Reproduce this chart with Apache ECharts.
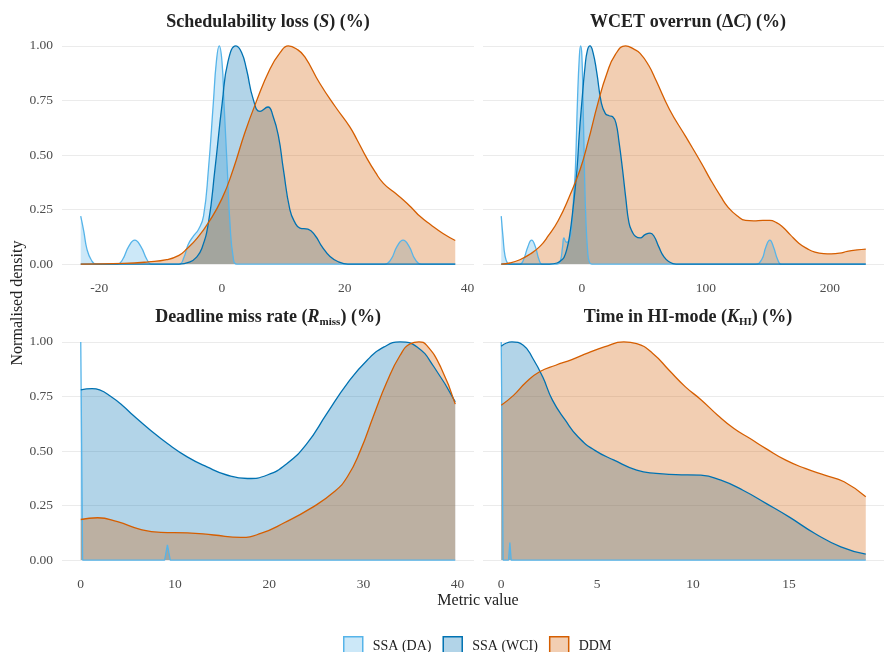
<!DOCTYPE html>
<html><head><meta charset="utf-8">
<script src="https://cdn.jsdelivr.net/npm/echarts@6/dist/echarts.min.js"></script>
<style>html,body{margin:0;padding:0;background:#fff}#c{width:884px;height:652px}</style>
</head><body><div id="c"></div>
<script>
// ---------- DATA ----------
const seriesNames = ['SSA (DA)', 'SSA (WCI)', 'DDM'];

// Panel 1: Schedulability loss
const schedDA_x = [-23,-22.5,-22,-21.3,-20.5,-17,-16.2,-15.2,-14.2,-13.2,-12.2,-11.5,-7,-6.2,-5.5,-4.6,-3.8,-3.0,-2.2,-1.4,-0.9,-0.44,0,0.33,0.87,1.3,1.84,2.4,26.5,27.5,28.5,29.5,30.5,31.5,32.5,38];
const schedDA_y = [0.22,0.15,0.07,0.02,0,0,0.02,0.08,0.11,0.08,0.02,0,0,0.03,0.09,0.13,0.16,0.22,0.435,0.74,0.93,1.0,0.93,0.74,0.435,0.19,0.03,0,0,0.02,0.08,0.11,0.08,0.02,0,0];
const schedWCI_x = [-23,-7,-5.2,-4.2,-3.3,-2.2,-1.14,0.05,1.0,2.28,3.2,4.0,5.1,6.2,7.5,8.3,9.2,10.0,11.06,11.9,12.7,14.0,15.2,16.3,17.6,19.0,20.5,38];
const schedWCI_y = [0,0,0.01,0.03,0.07,0.19,0.435,0.74,0.93,1.0,0.97,0.893,0.755,0.70,0.72,0.68,0.587,0.435,0.25,0.19,0.165,0.16,0.13,0.08,0.035,0.01,0,0];
const schedDDM_x = [-23,-16,-12,-9,-7,-5.7,-4,-2.2,0,1.84,3.7,5.53,7.8,9.5,10.8,12.2,13.5,15.9,18.5,20.8,22,23.5,25,26.3,28,29.5,31,32.2,34,36,38];
const schedDDM_y = [0,0.003,0.01,0.02,0.04,0.07,0.12,0.19,0.30,0.435,0.6,0.74,0.893,0.97,1.0,0.985,0.95,0.83,0.72,0.63,0.57,0.49,0.42,0.37,0.33,0.295,0.255,0.22,0.18,0.14,0.108];

// Panel 2: WCET overrun
const wcetDA_x = [-65,-63.5,-62,-60,-58,-50,-47,-43.5,-40.5,-37.5,-34.5,-32,-20,-17.5,-15.5,-14.4,-12.5,-10,-7.8,-6.5,-5.2,-3.5,-2,-1,0,1,2.1,3.3,4.7,6,8,140,145,148.5,151.6,154.5,158,161,229];
const wcetDA_y = [0.22,0.12,0.04,0.005,0,0,0.02,0.08,0.11,0.08,0.02,0,0,0.01,0.08,0.12,0.10,0.11,0.2,0.32,0.435,0.75,0.95,1.0,0.96,0.75,0.435,0.2,0.06,0.01,0,0,0.02,0.08,0.11,0.08,0.02,0,0];
const wcetWCI_x = [-65,-26,-20,-16,-14.4,-12,-9.9,-7,-3.9,-2,0,2.5,4.5,6.6,9,12,15.7,19,22,24.9,27.5,30,32.8,35.5,38,40.5,43.2,47.1,51,55,58,62,66,70,76,229];
const wcetWCI_y = [0,0,0.005,0.02,0.03,0.07,0.128,0.26,0.435,0.6,0.74,0.9,0.98,1.0,0.97,0.88,0.74,0.69,0.68,0.675,0.647,0.56,0.435,0.3,0.19,0.15,0.128,0.12,0.135,0.142,0.13,0.08,0.035,0.012,0,0];
const wcetDDM_x = [-65,-58,-50,-42,-34,-27,-19,-10,-1.3,5,13.1,20,27,35.3,42,47,54,60,70.6,83.7,96.7,104,112,118,125.5,132,138.6,146,151.6,157,162,168,175,182,188,195,201,208,214,222,229];
const wcetDDM_y = [0,0.005,0.02,0.045,0.08,0.13,0.2,0.31,0.435,0.56,0.74,0.87,0.96,1.0,0.985,0.966,0.91,0.84,0.71,0.585,0.46,0.385,0.31,0.26,0.22,0.2,0.198,0.2,0.2,0.19,0.17,0.135,0.096,0.07,0.055,0.048,0.047,0.05,0.058,0.065,0.069];

// Panel 3: Deadline miss rate
const missDA_x = [0,0.2,8.9,9.2,9.5,39.75];
const missDA_y = [1.0,0,0,0.07,0,0];
const missWCI_x = [0,1.2,2,3.2,4.4,5.65,7.4,9.2,11.3,13.4,15.5,17.7,19.8,21.9,24,26.1,28.3,30.4,32.2,33.9,35.7,37.5,39.75];
const missWCI_y = [0.78,0.786,0.78,0.75,0.71,0.66,0.595,0.534,0.473,0.427,0.39,0.374,0.39,0.443,0.534,0.67,0.81,0.916,0.977,1.0,0.977,0.885,0.725];
const missDDM_x = [0,1.8,3.9,6.4,8.5,11.3,14.1,17,19.1,21.6,24.4,26.9,28.3,29.7,31.1,32.5,33.9,35,35.9,36.7,38.2,39.75];
const missDDM_y = [0.186,0.194,0.176,0.14,0.127,0.125,0.115,0.104,0.122,0.171,0.237,0.313,0.382,0.504,0.664,0.817,0.939,0.992,1.0,0.985,0.885,0.715];

// Panel 4: Time in HI-mode
const hiDA_x = [0,0.1,0.38,0.45,0.52,19];
const hiDA_y = [1.0,0,0,0.08,0,0];
const hiWCI_x = [0,0.56,1.15,1.65,2.16,2.67,3.34,4.0,4.86,5.88,7.06,8.07,9.1,10.4,11.45,12.6,13.8,15,16.35,17.7,19];
const hiWCI_y = [0.98,1.0,0.985,0.924,0.84,0.733,0.641,0.565,0.504,0.458,0.412,0.397,0.392,0.389,0.366,0.32,0.26,0.198,0.122,0.061,0.027];
const hiDDM_x = [0,0.64,1.32,2,2.84,3.68,4.53,5.37,6.39,7.06,7.9,8.75,9.6,10.44,11.28,12.13,12.97,13.8,14.83,15.84,16.86,17.87,19];
const hiDDM_y = [0.71,0.755,0.817,0.863,0.893,0.919,0.95,0.977,1.0,0.992,0.947,0.87,0.794,0.733,0.664,0.603,0.557,0.511,0.458,0.42,0.389,0.359,0.29];

// tick labels
const xTicks1 = [-20, 0, 20, 40];
const xTicks2 = [0, 100, 200];
const xTicks3 = [0, 10, 20, 30, 40];
const xTicks4 = [0, 5, 10, 15];
const yTicks = [0, 0.25, 0.5, 0.75, 1.0];

// ---------- STYLE ----------
const FONT = "'Liberation Serif', 'Times New Roman', serif";
const LINE = ['#56B4E9', '#0072B2', '#D55E00'];
const FILL = ['rgba(86,180,233,0.3)', 'rgba(0,114,178,0.3)', 'rgba(213,94,0,0.3)'];

const zip = (xs, ys) => xs.map((x, i) => [x, ys[i]]);
const panels = [
  {d: [[schedDA_x, schedDA_y], [schedWCI_x, schedWCI_y], [schedDDM_x, schedDDM_y]], ticks: xTicks1, min: -26.05, max: 41.05, left: 62, top: 35, smoothDA: true},
  {d: [[wcetDA_x, wcetDA_y], [wcetWCI_x, wcetWCI_y], [wcetDDM_x, wcetDDM_y]], ticks: xTicks2, min: -79.7, max: 243.7, left: 483, top: 35, smoothDA: true},
  {d: [[missDA_x, missDA_y], [missWCI_x, missWCI_y], [missDDM_x, missDDM_y]], ticks: xTicks3, min: -1.99, max: 41.74, left: 62, top: 331, smoothDA: false},
  {d: [[hiDA_x, hiDA_y], [hiWCI_x, hiWCI_y], [hiDDM_x, hiDDM_y]], ticks: xTicks4, min: -0.95, max: 19.95, left: 483, top: 331, smoothDA: false}
];

const grids = [], xAxes = [], yAxes = [], series = [];
panels.forEach((p, k) => {
  grids.push({left: p.left, top: p.top, width: 412, height: 240});
  xAxes.push({
    type: 'value', gridIndex: k, min: p.min, max: p.max,
    axisLine: {show: false}, axisTick: {show: false, customValues: p.ticks},
    splitLine: {show: false},
    axisLabel: {customValues: p.ticks, color: '#4d4d4d', fontFamily: FONT, fontSize: 13.5, margin: 6}
  });
  yAxes.push({
    type: 'value', gridIndex: k, min: -0.05, max: 1.05,
    axisLine: {show: false}, axisTick: {show: false, customValues: yTicks},
    splitLine: {show: true, lineStyle: {color: '#ebebeb', width: 1}},
    axisLabel: {show: k % 2 === 0, customValues: yTicks, color: '#4d4d4d', fontFamily: FONT, fontSize: 13.5, margin: 9,
      formatter: v => v.toFixed(2)}
  });
  p.d.forEach((xy, s) => {
    series.push({
      name: seriesNames[s], type: 'line', xAxisIndex: k, yAxisIndex: k,
      data: zip(xy[0], xy[1]),
      symbol: 'none', showSymbol: false,
      smooth: (s === 0 && !p.smoothDA) ? false : 0.5,
      lineStyle: {color: LINE[s], width: 1.3},
      itemStyle: {color: LINE[s]},
      areaStyle: {color: FILL[s], opacity: 1},
      emphasis: {disabled: true}, silent: true
    });
  });
});

const rich = {
  b: {fontFamily: FONT, fontWeight: 'bold', fontSize: 18, color: '#222', lineHeight: 22},
  i: {fontFamily: FONT, fontStyle: 'italic', fontSize: 18, color: '#222', lineHeight: 22},
  r: {fontFamily: FONT, fontSize: 18, color: '#222', lineHeight: 22},
  s: {fontFamily: FONT, fontSize: 11, color: '#222', lineHeight: 11, verticalAlign: 'bottom'}
};
const mkTitle = (text, x, y) => ({text, left: x, top: y, textAlign: 'center', padding: 0, textStyle: {rich}});

const chart = echarts.init(document.getElementById('c'), null, {renderer: 'canvas'});
chart.setOption({
  animation: false,
  backgroundColor: '#fff',
  title: [
    mkTitle('{b|Schedulability loss (}{i|S}{b|) (%)}', 268, 11),
    mkTitle('{b|WCET overrun (}{r|Δ}{i|C}{b|) (%)}', 688, 11),
    mkTitle('{b|Deadline miss rate (}{i|R}{s|miss}{b|) (%)}', 268, 306),
    mkTitle('{b|Time in HI-mode (}{i|K}{s|HI}{b|) (%)}', 688, 306)
  ],
  grid: grids, xAxis: xAxes, yAxis: yAxes, series,
  legend: {
    left: 343, top: 636, padding: 0, itemWidth: 19, itemHeight: 19, itemGap: 11, selectedMode: false,
    textStyle: {fontFamily: FONT, fontSize: 14, color: '#222', padding: [0, 0, 0, 5]},
    data: seriesNames.map((n, i) => ({name: n, icon: 'rect',
      itemStyle: {color: FILL[i], borderColor: LINE[i], borderWidth: 1.5}}))
  },
  graphic: [
    {type: 'text', x: 18, y: 303, rotation: Math.PI / 2,
      style: {text: 'Normalised density', align: 'center', verticalAlign: 'middle', fontFamily: FONT, fontSize: 16, fill: '#222'}},
    {type: 'text', x: 478, y: 601,
      style: {text: 'Metric value', align: 'center', verticalAlign: 'middle', fontFamily: FONT, fontSize: 16, fill: '#222'}}
  ]
});
</script></body></html>
